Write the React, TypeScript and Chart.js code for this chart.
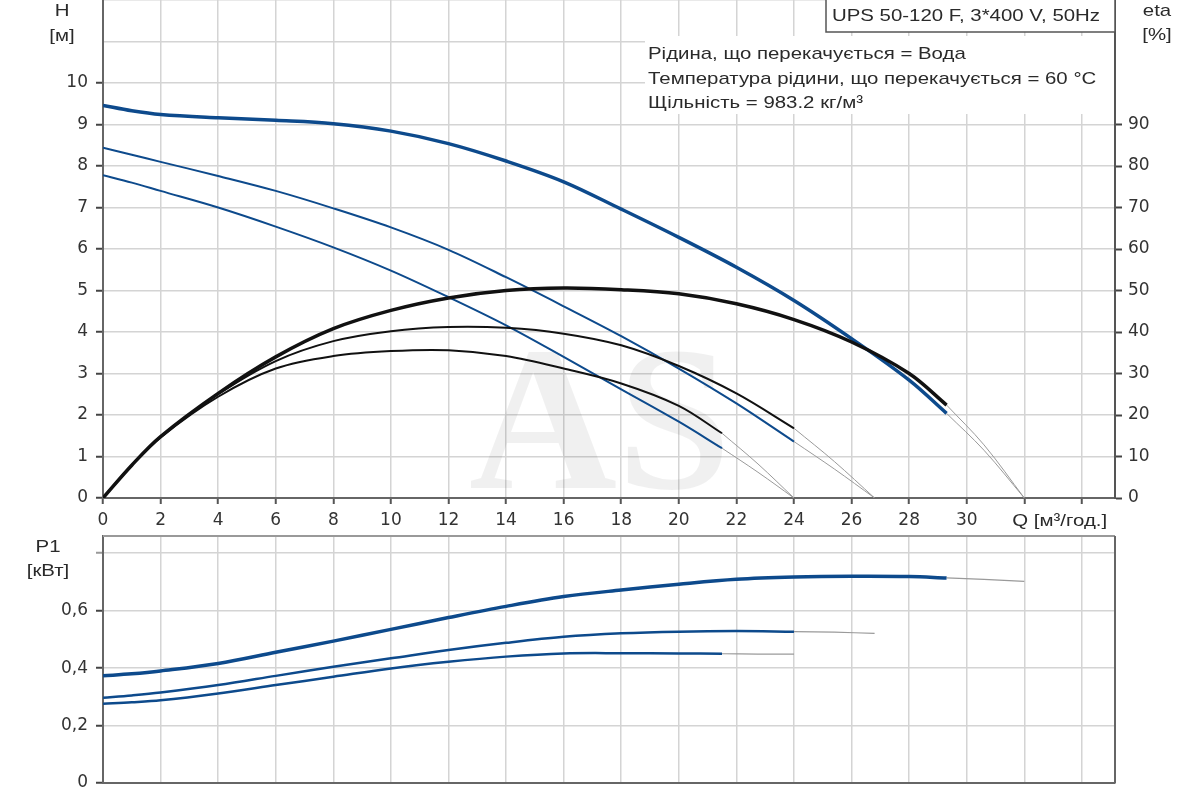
import { useEffect, useRef } from "react";
import { Chart, registerables } from "chart.js";

Chart.register(...registerables);

// flow Q [м³/год.] and readings for the three speeds (3 = max)
const q3 = [0, 1, 2, 4, 6, 8, 10, 12, 14, 16, 18, 20, 22, 24, 26, 28, 29.3];
const h3 = [9.46, 9.33, 9.24, 9.16, 9.1, 9.02, 8.84, 8.54, 8.12, 7.62, 6.96, 6.28, 5.56, 4.76, 3.84, 2.84, 2.04];
const eta3 = [0, 7.9, 14.8, 25.2, 34, 40.8, 45.2, 48.2, 50, 50.6, 50.2, 49.2, 46.8, 43, 37.6, 30, 22.4];
const p3 = [0.373, 0.38, 0.39, 0.416, 0.455, 0.494, 0.535, 0.576, 0.615, 0.649, 0.672, 0.692, 0.709, 0.717, 0.72, 0.719, 0.714];

const q2 = [0, 1, 2, 4, 6, 8, 10, 12, 14, 16, 18, 20, 22, 24];
const h2 = [8.44, 8.27, 8.1, 7.76, 7.4, 6.98, 6.52, 5.98, 5.32, 4.62, 3.9, 3.12, 2.28, 1.36];
const eta2 = [0, 7.9, 14.8, 25, 33, 37.8, 40.2, 41.2, 41, 39.6, 36.8, 31.8, 25.2, 16.8];
const p2 = [0.297, 0.305, 0.315, 0.341, 0.373, 0.405, 0.434, 0.463, 0.488, 0.509, 0.521, 0.527, 0.529, 0.527];

const q1 = [0, 1, 2, 4, 6, 8, 10, 12, 14, 16, 18, 20, 21.5];
const h1 = [7.78, 7.6, 7.4, 7.0, 6.54, 6.04, 5.48, 4.84, 4.16, 3.4, 2.62, 1.84, 1.2];
const eta1 = [0, 7.9, 14.6, 24.4, 31.2, 34.2, 35.4, 35.6, 34.2, 31.2, 27.6, 22.2, 15.6];
const p1 = [0.276, 0.281, 0.288, 0.312, 0.341, 0.37, 0.399, 0.422, 0.44, 0.451, 0.452, 0.451, 0.45];

// thin continuation past the end of each curve
const ext3Q = [29.3, 30.6, 32];
const ext3H = [2.04, 1.15, 0];
const ext3Eta = [22.4, 12.8, 0];
const ext3P = [0.714, 0.709, 0.702];

const ext2Q = [24, 25.4, 26.8];
const ext2H = [1.36, 0.7, 0];
const ext2Eta = [16.8, 8.8, 0];
const ext2P = [0.527, 0.525, 0.521];

const ext1Q = [21.5, 22.75, 24];
const ext1H = [1.2, 0.62, 0];
const ext1Eta = [15.6, 8.2, 0];
const ext1P = [0.45, 0.449, 0.449];

const pumpTitle = "UPS 50-120 F, 3*400 V, 50Hz";
const infoLines = [
  "Рідина, що перекачується = Вода",
  "Температура рідини, що перекачується = 60 °C",
  "Щільність = 983.2 кг/м³",
];

const BLUE = "#0d4a8c";
const BLACK = "#111111";
const THIN = "#9a9a9a";
const GRID = "#d4d4d4";
const AXIS = "#666666";
const TEXT = "#2a2a2a";
const tickFont = { family: "'DejaVu Sans', sans-serif", size: 17 };
const textFont = "17px 'Liberation Sans', Arial, sans-serif";

const pts = (xs: number[], ys: number[]) => xs.map((x, i) => ({ x, y: ys[i] }));

function curve(data: { x: number; y: number }[], color: string, width: number, yAxisID = "y") {
  return {
    data,
    borderColor: color,
    borderWidth: width,
    pointRadius: 0,
    fill: false,
    tension: 0.35,
    yAxisID,
  };
}

// the source picture is stretched sideways, so text is too
function stretchText(ctx: CanvasRenderingContext2D, text: string, x: number, y: number, align: CanvasTextAlign = "left") {
  ctx.save();
  ctx.translate(x, y);
  ctx.scale(1.2, 1);
  ctx.textAlign = align;
  ctx.fillText(text, 0, 0);
  ctx.restore();
}

const topText = {
  id: "topText",
  beforeDatasetsDraw(chart: Chart) {
    const ctx = chart.ctx;
    ctx.save();
    ctx.font = "bold 205px 'Liberation Serif', serif";
    ctx.fillStyle = "rgba(0,0,0,0.06)";
    ctx.textAlign = "center";
    ctx.fillText("AS", 600, 488);
    ctx.restore();
  },
  afterDraw(chart: Chart) {
    const ctx = chart.ctx;
    const x = chart.scales.x;
    ctx.save();
    ctx.fillStyle = "#ffffff";
    ctx.fillRect(645, 36, 469, 78);
    ctx.fillRect(826, -2, 289, 34);
    ctx.strokeStyle = "#555555";
    ctx.lineWidth = 1.5;
    ctx.strokeRect(826, -2, 289, 34);
    ctx.fillStyle = TEXT;
    ctx.font = textFont;
    stretchText(ctx, pumpTitle, 832, 21);
    infoLines.forEach((t, i) => stretchText(ctx, t, 648, 59 + i * 24.5));
    stretchText(ctx, "H", 62, 16, "center");
    stretchText(ctx, "[м]", 62, 41, "center");
    stretchText(ctx, "eta", 1157, 16, "center");
    stretchText(ctx, "[%]", 1157, 40, "center");
    stretchText(ctx, "Q [м³/год.]", x.getPixelForValue(32) - 12, 526);
    ctx.restore();
  },
};

const bottomText = {
  id: "bottomText",
  afterDraw(chart: Chart) {
    const ctx = chart.ctx;
    const a = chart.chartArea;
    ctx.save();
    ctx.lineWidth = 2;
    ctx.strokeStyle = "#999999";
    ctx.beginPath();
    ctx.moveTo(a.left, a.top);
    ctx.lineTo(a.right, a.top);
    ctx.stroke();
    ctx.strokeStyle = AXIS;
    ctx.beginPath();
    ctx.moveTo(a.right, a.top);
    ctx.lineTo(a.right, a.bottom);
    ctx.stroke();
    ctx.fillStyle = TEXT;
    ctx.font = textFont;
    stretchText(ctx, "P1", 48, 20, "center");
    stretchText(ctx, "[кВт]", 48, 44, "center");
    ctx.restore();
  },
};

const xAxis = (labels: boolean, height: number) => ({
  type: "linear" as const,
  min: 0,
  max: 35.15,
  ticks: {
    display: labels,
    stepSize: 2,
    includeBounds: false,
    autoSkip: false,
    maxRotation: 0,
    padding: 6,
    color: "#333",
    font: tickFont,
    callback: (v: number | string) => (Number(v) <= 30 ? String(v) : ""),
  },
  grid: {
    color: GRID,
    lineWidth: 1.5,
    drawTicks: labels,
    tickLength: 6,
    tickWidth: 2,
    tickColor: "#555",
  },
  border: { display: true, color: AXIS, width: 2 },
  afterFit: (s: any) => {
    s.height = height;
    s.paddingLeft = 0;
    s.paddingRight = 0;
  },
});

export default function App() {
  const topRef = useRef<HTMLCanvasElement | null>(null);
  const bottomRef = useRef<HTMLCanvasElement | null>(null);

  useEffect(() => {
    if (!topRef.current || !bottomRef.current) return;

    const top = new Chart(topRef.current, {
      type: "line",
      data: {
        datasets: [
          curve(pts(q3, eta3), BLACK, 3.5, "eta"),
          curve(pts(q2, eta2), BLACK, 2, "eta"),
          curve(pts(q1, eta1), BLACK, 2, "eta"),
          curve(pts(q3, h3), BLUE, 3.5),
          curve(pts(q2, h2), BLUE, 2),
          curve(pts(q1, h1), BLUE, 2),
          curve(pts(ext3Q, ext3Eta), THIN, 1, "eta"),
          curve(pts(ext2Q, ext2Eta), THIN, 1, "eta"),
          curve(pts(ext1Q, ext1Eta), THIN, 1, "eta"),
          curve(pts(ext3Q, ext3H), THIN, 1),
          curve(pts(ext2Q, ext2H), THIN, 1),
          curve(pts(ext1Q, ext1H), THIN, 1),
        ],
      },
      options: {
        animation: false,
        responsive: false,
        events: [],
        layout: { padding: 0, autoPadding: false },
        plugins: { legend: { display: false }, tooltip: { enabled: false } },
        scales: {
          x: xAxis(true, 34),
          y: {
            type: "linear",
            position: "left",
            min: 0,
            max: 12,
            ticks: {
              stepSize: 1,
              includeBounds: false,
              padding: 8,
              color: "#333",
              font: tickFont,
              callback: (v) => (Number(v) <= 10 ? String(v) : ""),
            },
            grid: {
              color: GRID,
              lineWidth: 1.5,
              tickLength: 7,
              tickWidth: 2,
              tickColor: (c: any) => (c.tick && c.tick.value <= 10 ? "#444" : "rgba(0,0,0,0)"),
            },
            border: { display: true, color: AXIS, width: 2 },
            afterFit: (s: any) => {
              s.width = 103;
              s.paddingTop = 0;
              s.paddingBottom = 0;
            },
          },
          eta: {
            type: "linear",
            position: "right",
            min: 0,
            max: 120,
            ticks: {
              stepSize: 10,
              includeBounds: false,
              padding: 6,
              color: "#333",
              font: tickFont,
              callback: (v) => (Number(v) <= 90 ? String(v) : ""),
            },
            grid: {
              drawOnChartArea: false,
              tickLength: 7,
              tickWidth: 2,
              tickColor: (c: any) => (c.tick && c.tick.value <= 90 ? "#444" : "rgba(0,0,0,0)"),
            },
            border: { display: true, color: "#555", width: 2 },
            afterFit: (s: any) => {
              s.width = 85;
              s.paddingTop = 0;
              s.paddingBottom = 0;
            },
          },
        },
      },
      plugins: [topText],
    });

    const bottom = new Chart(bottomRef.current, {
      type: "line",
      data: {
        datasets: [
          curve(pts(q3, p3), BLUE, 3.5),
          curve(pts(q2, p2), BLUE, 2.5),
          curve(pts(q1, p1), BLUE, 2.5),
          curve(pts(ext3Q, ext3P), THIN, 1.2),
          curve(pts(ext2Q, ext2P), THIN, 1.2),
          curve(pts(ext1Q, ext1P), THIN, 1.2),
        ],
      },
      options: {
        animation: false,
        responsive: false,
        events: [],
        layout: { padding: { top: 4, right: 85, left: 0, bottom: 0 }, autoPadding: false },
        plugins: { legend: { display: false }, tooltip: { enabled: false } },
        scales: {
          x: xAxis(false, 17),
          y: {
            type: "linear",
            position: "left",
            min: 0,
            max: 0.86,
            ticks: {
              stepSize: 0.2,
              includeBounds: false,
              padding: 8,
              color: "#333",
              font: tickFont,
              callback: (v) => {
                const n = Number(v);
                if (n > 0.7) return "";
                return n === 0 ? "0" : n.toFixed(1).replace(".", ",");
              },
            },
            grid: {
              color: GRID,
              lineWidth: 1.5,
              tickLength: 7,
              tickWidth: 2,
              tickColor: (c: any) => (c.tick && c.tick.value > 0.7 ? "#999" : "#444"),
            },
            border: { display: true, color: AXIS, width: 2 },
            afterFit: (s: any) => {
              s.width = 103;
              s.paddingTop = 0;
              s.paddingBottom = 0;
            },
          },
        },
      },
      plugins: [bottomText],
    });

    return () => {
      top.destroy();
      bottom.destroy();
    };
  }, []);

  return (
    <div style={{ position: "absolute", left: 0, top: 0, width: 1200, height: 800, background: "#ffffff" }}>
      <canvas ref={topRef} width={1200} height={532} style={{ position: "absolute", left: 0, top: 0 }} />
      <canvas ref={bottomRef} width={1200} height={268} style={{ position: "absolute", left: 0, top: 532 }} />
    </div>
  );
}
